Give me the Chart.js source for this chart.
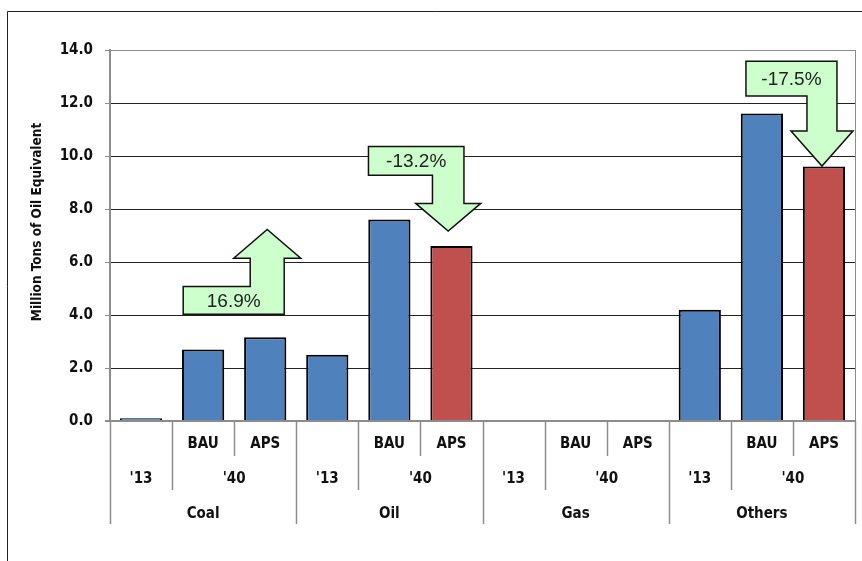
<!DOCTYPE html>
<html>
<head>
<meta charset="utf-8">
<script src="https://cdn.jsdelivr.net/npm/chart.js@4.4.1/dist/chart.umd.min.js"></script>
<style>
  html, body { margin: 0; padding: 0; background: #fff; }
  #wrap { width: 862px; height: 561px; }
</style>
</head>
<body>
<div id="wrap"><canvas id="chart" width="862" height="561"></canvas></div>
<script>
const fuels = ['Coal', 'Oil', 'Gas', 'Others'];
const years = ["'13", "'40"];
const cases = ['', 'BAU', 'APS'];
const coal = [0.1, 2.7, 3.16];
const oil = [2.5, 7.6, 6.6];
const gas = [0, 0, 0];
const others = [4.2, 11.6, 9.6];
const yTicks = [0, 2, 4, 6, 8, 10, 12, 14];
const changes = ['16.9%', '-13.2%', '-17.5%'];

const values = [...coal, ...oil, ...gas, ...others];
const labels = [];
fuels.forEach(f => cases.forEach(c => labels.push(f + '|' + c)));

const BLUE = '#4F81BD';
const RED = '#C0504D';
const AXIS = '#8c8c8c';
const FAMILY = '"DejaVu Sans Condensed", "DejaVu Sans"';
const LABEL_FONT = 'bold 15px ' + FAMILY;

// arrows: target category, box span (px offsets from target centre), y levels in data units
const arrows = [
    { idx: 2, text: changes[0], x0: -82, x1: 19, stem: 34, head: 33.5, yb0: 4.03, yb1: 5.08, yHead: 6.14, yTip: 7.23 },
    { idx: 5, text: changes[1], x0: -83, x1: 12.5, stem: 31.5, head: 32.5, yb0: 10.36, yb1: 9.27, yHead: 8.21, yTip: 7.17 },
    { idx: 11, text: changes[2], x0: -78, x1: 13, stem: 30, head: 31, yb0: 13.58, yb1: 12.26, yHead: 10.94, yTip: 9.62 },
];

const decorations = {
    id: 'decorations',
    beforeDraw(chart) {
        const c = chart.ctx;
        c.save();
        c.fillStyle = '#fff';
        c.fillRect(0, 0, chart.width, chart.height);
        c.strokeStyle = '#222';
        c.lineWidth = 1;
        c.beginPath();
        c.moveTo(7.5, chart.height);
        c.lineTo(7.5, 11.5);
        c.lineTo(chart.width, 11.5);
        c.stroke();
        c.restore();
    },
    afterDraw(chart) {
        const c = chart.ctx;
        const a = chart.chartArea;
        const x = chart.scales.x;
        const w = (a.right - a.left) / labels.length;
        c.save();

        // plot right border
        c.strokeStyle = AXIS;
        c.lineWidth = 1;
        c.beginPath();
        c.moveTo(a.right + 0.5, a.top);
        c.lineTo(a.right + 0.5, a.bottom);
        c.stroke();

        // category separators
        c.lineWidth = 1.5;
        for (let i = 0; i <= labels.length; i++) {
            const xb = Math.round(a.left + i * w) + 0.5;
            const len = i % 3 === 0 ? 103 : (i % 3 === 1 ? 69 : 35);
            c.beginPath();
            c.moveTo(xb, a.bottom);
            c.lineTo(xb, a.bottom + len);
            c.stroke();
        }

        // category labels
        c.fillStyle = '#111';
        c.font = LABEL_FONT;
        c.textAlign = 'center';
        c.textBaseline = 'middle';
        labels.forEach((l, i) => {
            const cs = l.split('|')[1];
            if (cs) c.fillText(cs, x.getPixelForValue(i), a.bottom + 23);
        });
        fuels.forEach((f, g) => {
            c.fillText(years[0], x.getPixelForValue(g * 3), a.bottom + 58);
            c.fillText(years[1], a.left + (g * 3 + 2) * w, a.bottom + 58);
            c.fillText(f, a.left + (g * 3 + 1.5) * w, a.bottom + 93);
        });

        // y axis title
        c.translate(37, 222);
        c.rotate(-Math.PI / 2);
        c.font = 'bold 13.5px ' + FAMILY;
        c.fillText('Million Tons of Oil Equivalent', 0, 0);
        c.restore();
    },
    afterDatasetsDraw(chart) {
        const c = chart.ctx;
        const x = chart.scales.x;
        const y = chart.scales.y;
        c.save();
        arrows.forEach(ar => {
            const cx = x.getPixelForValue(ar.idx);
            const sR = cx + ar.x1, sL = sR - ar.stem, sc = sR - ar.stem / 2;
            const b0 = y.getPixelForValue(ar.yb0), b1 = y.getPixelForValue(ar.yb1);
            const hy = y.getPixelForValue(ar.yHead), ty = y.getPixelForValue(ar.yTip);
            c.beginPath();
            c.moveTo(cx + ar.x0, b0);
            c.lineTo(sR, b0);
            c.lineTo(sR, hy);
            c.lineTo(sc + ar.head, hy);
            c.lineTo(sc, ty);
            c.lineTo(sc - ar.head, hy);
            c.lineTo(sL, hy);
            c.lineTo(sL, b1);
            c.lineTo(cx + ar.x0, b1);
            c.closePath();
            c.fillStyle = '#CCFFCC';
            c.fill();
            c.strokeStyle = '#111';
            c.lineWidth = 1.5;
            c.lineJoin = 'miter';
            c.stroke();
            c.fillStyle = '#222';
            c.font = '19px "Liberation Sans"';
            c.textAlign = 'center';
            c.textBaseline = 'middle';
            c.fillText(ar.text, (cx + ar.x0 + sR) / 2, (b0 + b1) / 2 + 1);
        });
        c.restore();
    }
};

new Chart(document.getElementById('chart'), {
    type: 'bar',
    data: {
        labels: labels,
        datasets: [{
            data: values,
            backgroundColor: ctx => {
                const [f, cs] = labels[ctx.dataIndex].split('|');
                return cs === 'APS' && f !== 'Coal' ? RED : BLUE;
            },
            borderColor: '#000',
            borderWidth: 2,
            barPercentage: 0.68,
            categoryPercentage: 1,
        }]
    },
    options: {
        responsive: false,
        animation: false,
        devicePixelRatio: 1,
        layout: { padding: { top: 50, right: 7, left: 0, bottom: 0 } },
        plugins: { legend: { display: false }, tooltip: { enabled: false } },
        scales: {
            x: {
                grid: { display: false },
                border: { display: false },
                ticks: { display: false },
                afterFit: s => { s.height = 140; }
            },
            y: {
                min: 0,
                max: 14,
                afterBuildTicks: s => { s.ticks = yTicks.map(v => ({ value: v })); },
                afterFit: s => { s.width = 110; },
                ticks: {
                    callback: v => v.toFixed(1),
                    color: '#111',
                    font: { family: FAMILY, weight: 'bold', size: 15 },
                    padding: 12
                },
                grid: {
                    color: ctx => ctx.tick.value === 0 || ctx.tick.value === 14 ? AXIS : '#222',
                    lineWidth: ctx => ctx.tick.value === 0 ? 2 : 1,
                    tickColor: AXIS,
                    tickLength: 5
                },
                border: { color: AXIS, width: 2 }
            }
        }
    },
    plugins: [decorations]
});
</script>
</body>
</html>
